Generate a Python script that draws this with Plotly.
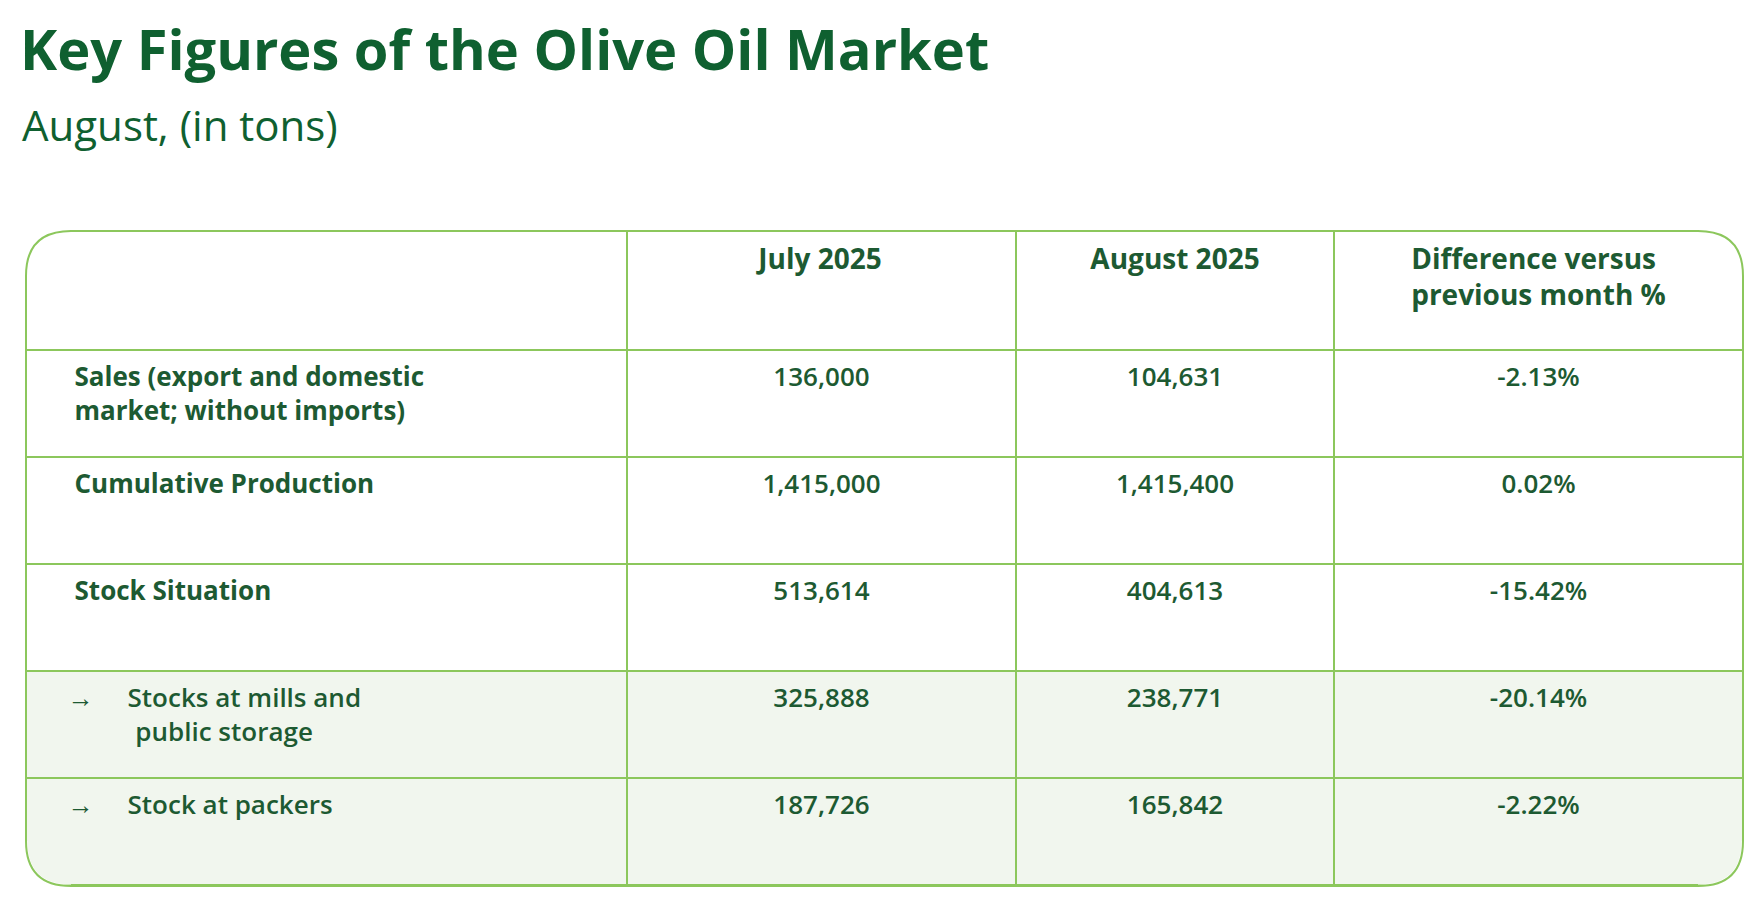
import plotly.graph_objects as go

W, H = 1752, 910
headers = ["", "July 2025", "August 2025", "Difference versus<br>previous month %"]
labels = ["Sales (export and domestic<br>market; without imports)", "Cumulative Production",
          "Stock Situation", "Stocks at mills and<br>public storage", "Stock at packers"]
label_bold = [True, True, True, False, False]
label_arrow = [False, False, False, True, True]
july = ["136,000", "1,415,000", "513,614", "325,888", "187,726"]
august = ["104,631", "1,415,400", "404,613", "238,771", "165,842"]
diff = ["-2.13%", "0.02%", "-15.42%", "-20.14%", "-2.22%"]

DARK = "#1d5a32"
GREEN = "#8cc75c"
SHADE = "#f1f6ee"
NB = "\u00a0"

def fmt_label(t, b, a):
    parts = t.split("<br>")
    if a:
        lines = [NB * 5 + "→" + NB * 5 + parts[0]] + [NB * 15 + p for p in parts[1:]]
    else:
        lines = [NB * 6 + ("<b>" + p + "</b>" if b else p) for p in parts]
    return "<br>".join(lines)

def vcenter(t):
    return t if "<br>" in t else "<br>" + t

col0 = [vcenter(fmt_label(t, b, a)) for t, b, a in zip(labels, label_bold, label_arrow)]
# vcenter check must use raw label line count
col0 = [("<br>" if "<br>" not in t else "") + fmt_label(t, b, a)
        for t, b, a in zip(labels, label_bold, label_arrow)]
fills = [SHADE if a else "white" for a in label_arrow]
hdr = [("<b>" + vcenter(h) + "</b>") if h else "" for h in headers]

fig = go.Figure(go.Table(
    domain=dict(x=[18 / W, 1735 / W], y=[1 - 878 / H, 1 - 223 / H]),
    columnwidth=[601, 389, 318, 409],
    header=dict(values=hdr, height=119, align="center", fill_color="white",
                line=dict(color=GREEN, width=1.5),
                font=dict(family="Open Sans", size=28, color=DARK)),
    cells=dict(values=[col0, [vcenter(v) for v in july], [vcenter(v) for v in august],
                       [vcenter(v) for v in diff]], height=107,
               align=["left", "center", "center", "center"],
               fill_color=[fills] * 4,
               line=dict(color=GREEN, width=1.5),
               font=dict(family="Open Sans", size=26, color=DARK, weight=600)),
))

x0, x1, y0, y1, r = 18, 1735, 223, 878, 45
def px(x): return x / W
def py(y): return 1 - y / H
shapes = []
for (cx, cy, sx, sy) in [(x0, y0, 1, 1), (x1, y0, -1, 1), (x0, y1, 1, -1), (x1, y1, -1, -1)]:
    p = (f"M {px(cx)},{py(cy)} L {px(cx+sx*r)},{py(cy)} Q {px(cx)},{py(cy)} "
         f"{px(cx)},{py(cy+sy*r)} Z")
    shapes.append(dict(type="path", path=p, xref="paper", yref="paper", fillcolor="white",
                       line=dict(width=3, color="white"), layer="above"))
frame = (f"M {px(x0+r)},{py(y0)} L {px(x1-r)},{py(y0)} Q {px(x1)},{py(y0)} {px(x1)},{py(y0+r)} "
         f"L {px(x1)},{py(y1-r)} Q {px(x1)},{py(y1)} {px(x1-r)},{py(y1)} "
         f"L {px(x0+r)},{py(y1)} Q {px(x0)},{py(y1)} {px(x0)},{py(y1-r)} "
         f"L {px(x0)},{py(y0+r)} Q {px(x0)},{py(y0)} {px(x0+r)},{py(y0)} Z")
shapes.append(dict(type="path", path=frame, xref="paper", yref="paper",
                   line=dict(width=2, color=GREEN), layer="above"))

fig.update_layout(
    width=W, height=H, margin=dict(l=0, r=0, t=0, b=0),
    paper_bgcolor="white", plot_bgcolor="white", shapes=shapes,
    annotations=[
        dict(text="<b>Key Figures of the Olive Oil Market</b>", x=px(10), y=py(0),
             xref="paper", yref="paper", xanchor="left", yanchor="top", showarrow=False,
             font=dict(family="Open Sans", size=56, color="#0f6030")),
        dict(text="August, (in tons)", x=px(12), y=py(86),
             xref="paper", yref="paper", xanchor="left", yanchor="top", showarrow=False,
             font=dict(family="Open Sans", size=42, color="#0f6030")),
    ],
)
fig.write_html("out.html")
